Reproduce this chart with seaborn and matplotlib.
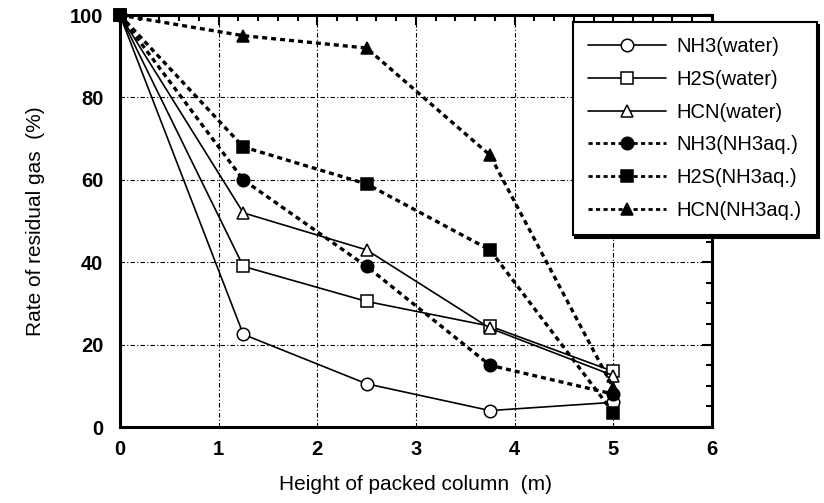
import matplotlib
matplotlib.use("Agg")
import matplotlib.pyplot as plt
import seaborn as sns
import pandas as pd
from matplotlib.ticker import MultipleLocator
from matplotlib.lines import Line2D

heights = [0, 1.25, 2.5, 3.75, 5]
nh3_water = [100, 22.5, 10.5, 4.0, 6.0]
h2s_water = [100, 39.0, 30.5, 24.5, 13.5]
hcn_water = [100, 52.0, 43.0, 24.0, 12.5]
nh3_aq = [100, 60.0, 39.0, 15.0, 8.0]
h2s_aq = [100, 68.0, 59.0, 43.0, 3.5]
hcn_aq = [100, 95.0, 92.0, 66.0, 9.5]

labels = ["NH3(water)", "H2S(water)", "HCN(water)",
          "NH3(NH3aq.)", "H2S(NH3aq.)", "HCN(NH3aq.)"]
series = [nh3_water, h2s_water, hcn_water, nh3_aq, h2s_aq, hcn_aq]

sns.set_theme(style="white")
plt.rcParams['font.family'] = ['Liberation Sans', 'DejaVu Sans']

fig = plt.figure(figsize=(8.24, 5.03), dpi=100)
ax = fig.add_axes([0.1456, 0.151, 0.864 - 0.1456, 0.970 - 0.151])

styles = [
    dict(marker="o", mfc="white", ls="-", lw=1.2),
    dict(marker="s", mfc="white", ls="-", lw=1.2),
    dict(marker="^", mfc="white", ls="-", lw=1.2),
    dict(marker="o", mfc="black", ls=(0, (1.5, 1.2)), lw=2.4),
    dict(marker="s", mfc="black", ls=(0, (1.5, 1.2)), lw=2.4),
    dict(marker="^", mfc="black", ls=(0, (1.5, 1.2)), lw=2.4),
]

handles = []
for lab, vals, st in zip(labels, series, styles):
    df = pd.DataFrame({"h": heights, "r": vals})
    sns.lineplot(data=df, x="h", y="r", ax=ax, color="black",
                 linestyle=st["ls"], linewidth=st["lw"], marker=st["marker"],
                 markersize=9, markerfacecolor=st["mfc"], markeredgecolor="black",
                 markeredgewidth=1.1, clip_on=False, zorder=3, legend=False)
    handles.append(Line2D([], [], color="black", linestyle=st["ls"],
                          linewidth=st["lw"] if st["mfc"] == "white" else 2.0,
                          marker=st["marker"], markersize=9,
                          markerfacecolor=st["mfc"], markeredgecolor="black",
                          markeredgewidth=1.1, label=lab))

ax.set_xlim(0, 6)
ax.set_ylim(0, 100)
ax.xaxis.set_major_locator(MultipleLocator(1))
ax.xaxis.set_minor_locator(MultipleLocator(0.2))
ax.yaxis.set_major_locator(MultipleLocator(20))
ax.yaxis.set_minor_locator(MultipleLocator(5))
ax.tick_params(which="both", direction="in", top=True, right=True,
               colors="black", width=1.5)
ax.tick_params(which="major", length=7, labelsize=14.5)
ax.tick_params(axis="x", which="major", pad=9)
ax.tick_params(axis="y", which="major", pad=12)
ax.tick_params(which="minor", length=4)
for t in ax.get_xticklabels() + ax.get_yticklabels():
    t.set_fontweight("bold")
for s in ax.spines.values():
    s.set_color("black")
    s.set_linewidth(2.2)
ax.grid(True, which="major", color="black", linestyle=(0, (4, 2, 1, 2)),
        linewidth=0.8)

ax.set_xlabel("Height of packed column  (m)", fontsize=15, color="black",
              labelpad=12)
ax.set_ylabel("Rate of residual gas  (%)", fontsize=15, color="black",
              labelpad=18)

leg = ax.legend(handles=handles, loc="upper left",
                bbox_to_anchor=(0.695, 0.956), bbox_transform=fig.transFigure,
                borderaxespad=0,
                frameon=True, fancybox=False, framealpha=1,
                edgecolor="black", fontsize=14.5, handlelength=3.9,
                labelspacing=0.68, borderpad=0.75, handletextpad=0.5,
                shadow={"color": "black", "alpha": 1})
leg.get_frame().set_linewidth(1.5)
leg.set_zorder(10)
for t in leg.get_texts():
    t.set_color("black")

fig.savefig("out.png", dpi=100)
